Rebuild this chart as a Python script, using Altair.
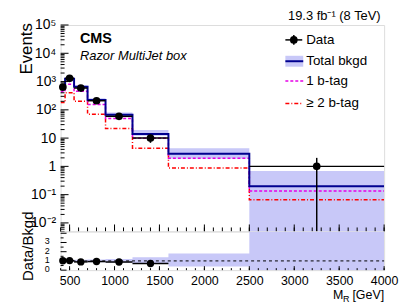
import altair as alt
import pandas as pd
import numpy as np

FONT = "Liberation Sans"

# ---------------- data ----------------
edges = [400, 450, 550, 700, 900, 1200, 1600, 2500, 4000]
data_counts = [640, 1300, 590, 210, 59, 10, 0, 1]
data_errors = [25, 36, 24, 14.5, 7.7, 3.2, 0, 1]
bkg_total = [630, 1260, 660, 225, 67, 13.9, 2.8, 0.2]
bkg_low = [570, 1150, 600, 205, 58, 12, 1.9, 0.005]
bkg_high = [700, 1400, 730, 255, 80, 19.5, 4.4, 0.68]
btag1 = [440, 800, 450, 155, 49, 9.8, 1.95, 0.135]
btag2 = [180, 400, 200, 70, 22, 4.4, 0.87, 0.066]
ratio_low = [0.87, 0.9, 0.88, 0.86, 0.82, 0.7, 0.4, 0.0]
ratio_high = [1.13, 1.1, 1.12, 1.15, 1.2, 1.4, 1.8, 4.2]

y_tick_values = [0.01, 0.1, 1, 10, 100, 1000, 10000, 100000]
y_tick_labels = ["10⁻²", "10⁻¹", "1", "10", "10²", "10³", "10⁴", "10⁵"]
x_tick_values = [500, 1000, 1500, 2000, 2500, 3000, 3500, 4000]
ratio_tick_values = [0, 1, 2, 3]
ratio_tick_labels = ["0", "1", "2", "3"]
legend_labels = ["Data", "Total bkgd", "1 b-tag", "≥ 2 b-tag"]

Y_MIN, Y_MAX = 0.005, 1e5
R_MAX = 4.2
W, H_MAIN, H_RATIO = 326, 208, 39

BAND = "#c8c8f8"
NAVY = "#00008f"
MAGENTA = "#e600e6"
RED = "#ff0000"

# ---------------- tables ----------------
steps = pd.DataFrame({
    "x": edges,
    "total": bkg_total + [bkg_total[-1]],
    "lo": bkg_low + [bkg_low[-1]],
    "hi": bkg_high + [bkg_high[-1]],
    "b1": btag1 + [btag1[-1]],
    "b2": btag2 + [btag2[-1]],
    "rlo": ratio_low + [ratio_low[-1]],
    "rhi": ratio_high + [ratio_high[-1]],
})

bins = pd.DataFrame({
    "xlo": edges[:-1],
    "xhi": edges[1:],
    "xc": [(a + b) / 2 for a, b in zip(edges[:-1], edges[1:])],
    "n": data_counts,
    "err": data_errors,
    "bkg": bkg_total,
})
bins = bins[bins["n"] > 0].copy()
bins["ylo"] = np.maximum(bins["n"] - bins["err"], Y_MIN)
bins["yhi"] = bins["n"] + bins["err"]
bins["r"] = bins["n"] / bins["bkg"]
bins["rlo"] = (bins["n"] - bins["err"]) / bins["bkg"]
bins["rhi"] = (bins["n"] + bins["err"]) / bins["bkg"]
rbins = bins[bins["r"] < R_MAX]

# tick positions
major_y = pd.DataFrame({"v": y_tick_values})
minor_y = pd.DataFrame({"v": [k * 10.0 ** e for e in range(-3, 5) for k in range(2, 10)
                              if Y_MIN <= k * 10.0 ** e <= Y_MAX]})
major_x = pd.DataFrame({"v": x_tick_values})
minor_x = pd.DataFrame({"v": list(range(400, 4001, 100))})
major_r = pd.DataFrame({"v": ratio_tick_values + [4]})
minor_r = pd.DataFrame({"v": [0.5, 1.5, 2.5, 3.5]})
rlabels = pd.DataFrame({"v": ratio_tick_values, "lab": ratio_tick_labels})

xscale = alt.Scale(domain=[400, 4000], nice=False, zero=False)
yscale = alt.Scale(type="log", domain=[Y_MIN, Y_MAX], nice=False, clamp=True)
rscale = alt.Scale(domain=[0, R_MAX], nice=False, zero=False, clamp=True)

label_expr = ""
for v, l in zip(y_tick_values, y_tick_labels):
    label_expr += f"datum.value < {v * 1.5} ? '{l}' : "
label_expr += "''"

YAX = alt.Axis(values=y_tick_values, labelExpr=label_expr, ticks=False, domain=False,
               grid=False, title=None, labelFontSize=14, labelPadding=5,
               labelFont=FONT, labelColor="black")
XAX_MAIN = None
XAX_R = alt.Axis(values=x_tick_values, ticks=False, domain=False, grid=False, title=None,
                 labelFontSize=12.5, labelPadding=4, labelFont=FONT, labelColor="black",
                 labelFlush=False, format="d")
RAX = None


def one(t):
    return pd.DataFrame({"t": [t]})


def txt(t, x, y, size, align="left", baseline="alphabetic", **kw):
    return alt.Chart(one(t)).mark_text(align=align, baseline=baseline, fontSize=size,
                                       font=FONT, color="black", **kw).encode(
        x=alt.value(x), y=alt.value(y), text="t:N")


def hrule(x1, x2, y, color, width=1.0, dash=None):
    kw = {"strokeDash": dash} if dash else {}
    return alt.Chart(one("r")).mark_rule(color=color, strokeWidth=width, **kw).encode(
        x=alt.value(x1), x2=alt.value(x2), y=alt.value(y))


def mx(f):
    return alt.X(f"{f}:Q", scale=xscale, axis=XAX_MAIN)


def my(f):
    return alt.Y(f"{f}:Q", scale=yscale, axis=YAX)


def rx(f):
    return alt.X(f"{f}:Q", scale=xscale, axis=XAX_R)


def ry(f):
    return alt.Y(f"{f}:Q", scale=rscale, axis=RAX)


# ---------------- main panel ----------------
band = alt.Chart(steps).mark_area(interpolate="step-after", color=BAND, clip=True).encode(
    x=mx("x"), y=my("hi"), y2="lo:Q")


def step_line(field, color, width, dash=None):
    kw = {"strokeDash": dash} if dash else {}
    return alt.Chart(steps).mark_line(interpolate="step-after", color=color,
                                      strokeWidth=width, clip=True, **kw).encode(
        x=mx("x"), y=my(field))


l2 = step_line("b2", RED, 1.5, [4, 2, 1, 2])
l1 = step_line("b1", MAGENTA, 1.5, [3, 2])
lt = step_line("total", NAVY, 2)

dx = alt.Chart(bins).mark_rule(color="black", strokeWidth=1.5).encode(
    x=mx("xlo"), x2="xhi:Q", y=my("n"))
dy = alt.Chart(bins).mark_rule(color="black", strokeWidth=1.5).encode(
    x=mx("xc"), y=my("ylo"), y2="yhi:Q")
dp = alt.Chart(bins).mark_point(filled=True, color="black", size=60, opacity=1).encode(
    x=mx("xc"), y=my("n"))

ty_major = alt.Chart(major_y).mark_rule(color="black").encode(
    y=my("v"), x=alt.value(0), x2=alt.value(8))
ty_minor = alt.Chart(minor_y).mark_rule(color="black").encode(
    y=my("v"), x=alt.value(0), x2=alt.value(4))
tx_major = alt.Chart(major_x).mark_rule(color="black").encode(
    x=mx("v"), y=alt.value(H_MAIN), y2=alt.value(H_MAIN - 7))
tx_minor = alt.Chart(minor_x).mark_rule(color="black").encode(
    x=mx("v"), y=alt.value(H_MAIN), y2=alt.value(H_MAIN - 4))

# texts
t_events = txt("Events", -28.5, -2, 17, align="right", angle=270)
t_lumi = txt("19.3 fb⁻¹ (8 TeV)", 322.5, -5, 13, align="right")
t_cms = txt("CMS", 19.5, 18.5, 14.5, fontWeight="bold")
t_box = txt("Razor MultiJet box", 19.5, 35.5, 13, fontStyle="italic")

# legend
LX1, LX2, LT = 226.5, 243.5, 247.5
leg = [
    hrule(LX1, LX2, 15, "black", 1.5),
    alt.Chart(one("p")).mark_rule(color="black", strokeWidth=1.5).encode(
        x=alt.value((LX1 + LX2) / 2), y=alt.value(10), y2=alt.value(20)),
    alt.Chart(one("p")).mark_point(filled=True, color="black", size=60, opacity=1).encode(
        x=alt.value((LX1 + LX2) / 2), y=alt.value(15)),
    txt(legend_labels[0], LT, 15, 13.5, baseline="middle"),
    alt.Chart(one("b")).mark_rect(color=BAND).encode(
        x=alt.value(LX1), x2=alt.value(LX2 + 1), y=alt.value(31), y2=alt.value(42)),
    hrule(LX1, LX2 + 1, 36.5, NAVY, 2),
    txt(legend_labels[1], LT, 36.5, 13.5, baseline="middle"),
    hrule(LX1, LX2 + 1, 56.5, MAGENTA, 1.5, [3, 2]),
    txt(legend_labels[2], LT, 56.5, 13.5, baseline="middle"),
    hrule(LX1, LX2 + 1, 79, RED, 1.5, [4, 2, 1, 2]),
    txt(legend_labels[3], LT, 79, 13.5, baseline="middle"),
]

main = alt.layer(band, l2, l1, lt, dx, dy, dp, ty_major, ty_minor, tx_major, tx_minor,
                 t_events, t_lumi, t_cms, t_box, *leg).properties(width=W, height=H_MAIN)

# ---------------- ratio panel ----------------
rband = alt.Chart(steps).mark_area(interpolate="step-after", color=BAND, clip=True).encode(
    x=rx("x"), y=ry("rhi"), y2="rlo:Q")
rone = alt.Chart(one("1")).mark_rule(color="black", strokeWidth=1, strokeDash=[3, 3]).encode(
    y=ry("v"), x=alt.value(0), x2=alt.value(W)
).transform_calculate(v="1")
rdx = alt.Chart(rbins).mark_rule(color="black", strokeWidth=1.5).encode(
    x=rx("xlo"), x2="xhi:Q", y=ry("r"))
rdy = alt.Chart(rbins).mark_rule(color="black", strokeWidth=1.5).encode(
    x=rx("xc"), y=ry("rlo"), y2="rhi:Q")
rdp = alt.Chart(rbins).mark_point(filled=True, color="black", size=55, opacity=1).encode(
    x=rx("xc"), y=ry("r"))

rt_ymaj = alt.Chart(major_r).mark_rule(color="black").encode(
    y=ry("v"), x=alt.value(0), x2=alt.value(6))
rt_ymin = alt.Chart(minor_r).mark_rule(color="black").encode(
    y=ry("v"), x=alt.value(0), x2=alt.value(3))
rt_xmaj = alt.Chart(major_x).mark_rule(color="black").encode(
    x=rx("v"), y=alt.value(H_RATIO), y2=alt.value(H_RATIO - 4))
rt_xmin = alt.Chart(minor_x).mark_rule(color="black").encode(
    x=rx("v"), y=alt.value(H_RATIO), y2=alt.value(H_RATIO - 2))
rt_lab = alt.Chart(rlabels).mark_text(align="right", baseline="middle", fontSize=9,
                                      font=FONT, color="black", dy=-1).encode(
    y=ry("v"), x=alt.value(-11), text="lab:N")

t_ratio = txt("Data/Bkgd", -27.5, 15, 15, align="center", angle=270)
t_gev = txt("[GeV]", 326, 68, 12.5, align="right")
t_sub = txt("R", 291, 71, 9, align="right")
t_m = txt("M", 285, 68, 12.5, align="right")

ratio = alt.layer(rband, rone, rdx, rdy, rdp, rt_ymaj, rt_ymin, rt_xmaj, rt_xmin, rt_lab,
                  t_ratio, t_gev, t_sub, t_m).properties(width=W, height=H_RATIO)

chart = alt.vconcat(main, ratio, spacing=0, bounds="flush").properties(
    padding={"left": 10, "top": 0, "right": 0, "bottom": 0}
).configure_view(stroke="black", strokeWidth=1).configure(background="white")

chart.save("out.html", embed_options={"renderer": "svg", "actions": False})
